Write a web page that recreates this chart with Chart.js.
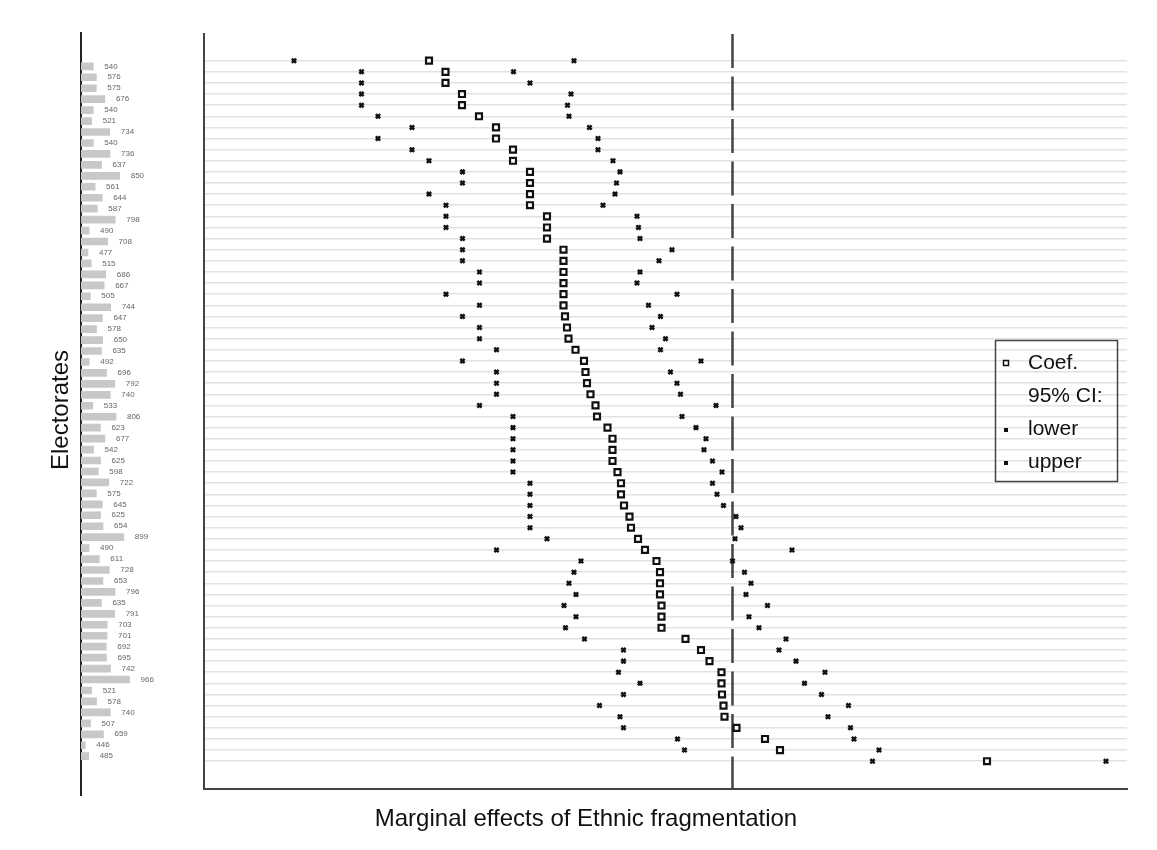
<!DOCTYPE html>
<html>
<head>
<meta charset="utf-8">
<script src="https://cdn.jsdelivr.net/npm/chart.js@4.4.1/dist/chart.umd.min.js"></script>
<style>
  html, body { margin: 0; padding: 0; background: #fff; }
  #wrap { position: relative; width: 1157px; height: 850px; overflow: hidden; font-family: "Liberation Sans", Arial, sans-serif; }
  canvas { position: absolute; top: 0; }
  #xtitle { position: absolute; left: 336px; width: 500px; top: 803px; text-align: center; font-size: 24px; line-height: 30px; color: #111; }
  #ytitle { position: absolute; left: -40px; width: 200px; top: 395px; text-align: center; font-size: 24px; line-height: 30px; color: #111; transform: rotate(-90deg); }
</style>
</head>
<body>
<div id="wrap">
  <canvas id="effects" width="1157" height="850" style="left:0"></canvas>
  <canvas id="sizes" width="200" height="850" style="left:0"></canvas>
  <div id="ytitle">Electorates</div>
  <div id="xtitle">Marginal effects of Ethnic fragmentation</div>
</div>
<script>
// size of each electorate (left panel), top to bottom
const electorates = [540, 576, 575, 676, 540, 521, 734, 540, 736, 637, 850, 561, 644, 587, 798, 490,
  708, 477, 515, 686, 667, 505, 744, 647, 578, 650, 635, 492, 696, 792, 740, 533,
  806, 623, 677, 542, 625, 598, 722, 575, 645, 625, 654, 899, 490, 611, 728, 653,
  796, 635, 791, 703, 701, 692, 695, 742, 966, 521, 578, 740, 507, 659, 446, 485];

// marginal effect and 95% CI bounds, same row order
const coef = [-0.607, -0.574, -0.574, -0.541, -0.541, -0.507, -0.473, -0.473, -0.439, -0.439, -0.405, -0.405, -0.405, -0.405, -0.371, -0.371,
  -0.371, -0.338, -0.338, -0.338, -0.338, -0.338, -0.338, -0.335, -0.331, -0.328, -0.314, -0.297, -0.294, -0.291, -0.284, -0.274,
  -0.271, -0.250, -0.240, -0.240, -0.240, -0.230, -0.223, -0.223, -0.217, -0.206, -0.203, -0.189, -0.175, -0.152, -0.145, -0.145,
  -0.145, -0.142, -0.142, -0.142, -0.094, -0.063, -0.046, -0.022, -0.022, -0.021, -0.018, -0.016, 0.008, 0.065, 0.095, 0.509];
const lower = [-0.877, -0.742, -0.742, -0.742, -0.742, -0.709, -0.641, -0.709, -0.641, -0.607, -0.540, -0.540, -0.607, -0.573, -0.573, -0.573,
  -0.540, -0.540, -0.540, -0.506, -0.506, -0.573, -0.506, -0.540, -0.506, -0.506, -0.472, -0.540, -0.472, -0.472, -0.472, -0.506,
  -0.439, -0.439, -0.439, -0.439, -0.439, -0.439, -0.405, -0.405, -0.405, -0.405, -0.405, -0.371, -0.472, -0.303, -0.317, -0.327,
  -0.313, -0.337, -0.313, -0.334, -0.296, -0.218, -0.218, -0.228, -0.185, -0.218, -0.266, -0.225, -0.218, -0.110, -0.096, 0.280];
const upper = [-0.317, -0.438, -0.405, -0.323, -0.330, -0.327, -0.286, -0.269, -0.269, -0.239, -0.225, -0.232, -0.235, -0.259, -0.191, -0.188,
  -0.185, -0.121, -0.147, -0.185, -0.191, -0.111, -0.168, -0.144, -0.161, -0.134, -0.144, -0.063, -0.124, -0.111, -0.104, -0.033,
  -0.101, -0.073, -0.053, -0.057, -0.040, -0.021, -0.040, -0.031, -0.018, 0.007, 0.017, 0.005, 0.119, 0.000, 0.024, 0.037,
  0.027, 0.070, 0.033, 0.053, 0.107, 0.093, 0.127, 0.185, 0.144, 0.178, 0.232, 0.191, 0.236, 0.243, 0.293, 0.747];

const rowTicks = s => { s.ticks = electorates.map((_, i) => ({ value: i })); };
const pts = arr => arr.map((v, i) => ({ x: v, y: i }));

// dashed line at zero effect
const zeroLine = {
  id: 'zeroLine',
  beforeDatasetsDraw(chart) {
    const { ctx, chartArea, scales } = chart;
    const x = scales.x.getPixelForValue(0);
    ctx.save();
    ctx.strokeStyle = '#444';
    ctx.lineWidth = 2.5;
    ctx.setLineDash([34, 8.5]);
    ctx.beginPath();
    ctx.moveTo(x, chartArea.top);
    ctx.lineTo(x, chartArea.bottom);
    ctx.stroke();
    ctx.restore();
  }
};

// boxed legend in the style of the original
const boxLegend = {
  id: 'boxLegend',
  afterDraw(chart) {
    const ctx = chart.ctx;
    ctx.save();
    ctx.strokeStyle = '#444';
    ctx.lineWidth = 1.5;
    ctx.strokeRect(995.5, 340.5, 122, 141);
    ctx.font = '21px "Liberation Sans", Arial, sans-serif';
    ctx.fillStyle = '#111';
    ctx.textBaseline = 'middle';
    ctx.fillText('Coef.', 1028, 363);
    ctx.fillText('95% CI:', 1028, 396);
    ctx.fillText('lower', 1028, 429);
    ctx.fillText('upper', 1028, 462);
    ctx.strokeStyle = '#111';
    ctx.lineWidth = 1.5;
    ctx.strokeRect(1003.5, 360.5, 5, 5);
    ctx.fillStyle = '#111';
    ctx.fillRect(1004, 428, 4, 4);
    ctx.fillRect(1004, 461, 4, 4);
    ctx.restore();
  }
};

new Chart(document.getElementById('effects'), {
  type: 'scatter',
  data: {
    datasets: [
      { label: 'lower', data: pts(lower), pointStyle: 'crossRot', radius: 3, borderWidth: 2.5, borderColor: '#111', backgroundColor: '#111' },
      { label: 'upper', data: pts(upper), pointStyle: 'crossRot', radius: 3, borderWidth: 2.5, borderColor: '#111', backgroundColor: '#111' },
      { label: 'Coef.', data: pts(coef), pointStyle: 'rect', radius: 4.2, borderWidth: 2.2, borderColor: '#111', backgroundColor: '#fff' }
    ]
  },
  options: {
    responsive: false,
    animation: false,
    devicePixelRatio: 1,
    layout: { padding: { left: 204, right: 30, top: 34, bottom: 61 } },
    plugins: { legend: { display: false }, tooltip: { enabled: false } },
    scales: {
      x: {
        type: 'linear', min: -1.057, max: 0.789,
        ticks: { display: false },
        grid: { drawOnChartArea: false, drawTicks: false },
        border: { color: '#444', width: 2 }
      },
      y: {
        type: 'linear', reverse: true, min: -2.4, max: 65.5,
        afterBuildTicks: rowTicks,
        ticks: { display: false },
        grid: { color: '#e2e2e2', lineWidth: 1.5, drawTicks: false },
        border: { color: '#444', width: 2 }
      }
    }
  },
  plugins: [zeroLine, boxLegend]
});

// electorate size labels next to each bar
const barLabels = {
  id: 'barLabels',
  afterDatasetsDraw(chart) {
    const ctx = chart.ctx;
    ctx.save();
    ctx.font = '8px "Liberation Sans", Arial, sans-serif';
    ctx.fillStyle = '#666';
    ctx.textBaseline = 'middle';
    chart.getDatasetMeta(0).data.forEach((bar, i) => {
      ctx.fillText(electorates[i], bar.x + 11, bar.y);
    });
    ctx.restore();
  }
};

new Chart(document.getElementById('sizes'), {
  type: 'bar',
  data: {
    datasets: [{ data: pts(electorates), backgroundColor: '#c8c8c8', barThickness: 7 }]
  },
  options: {
    indexAxis: 'y',
    responsive: false,
    animation: false,
    devicePixelRatio: 1,
    layout: { padding: { left: 81, right: 35, top: 33, bottom: 55 } },
    plugins: { legend: { display: false }, tooltip: { enabled: false } },
    scales: {
      x: { type: 'linear', min: 395, max: 1383, display: false },
      y: {
        type: 'linear', reverse: true, min: -2.5, max: 66,
        afterBuildTicks: rowTicks,
        ticks: { display: false },
        grid: { drawOnChartArea: false, drawTicks: false },
        border: { color: '#222', width: 2 }
      }
    }
  },
  plugins: [barLabels]
});
</script>
</body>
</html>
